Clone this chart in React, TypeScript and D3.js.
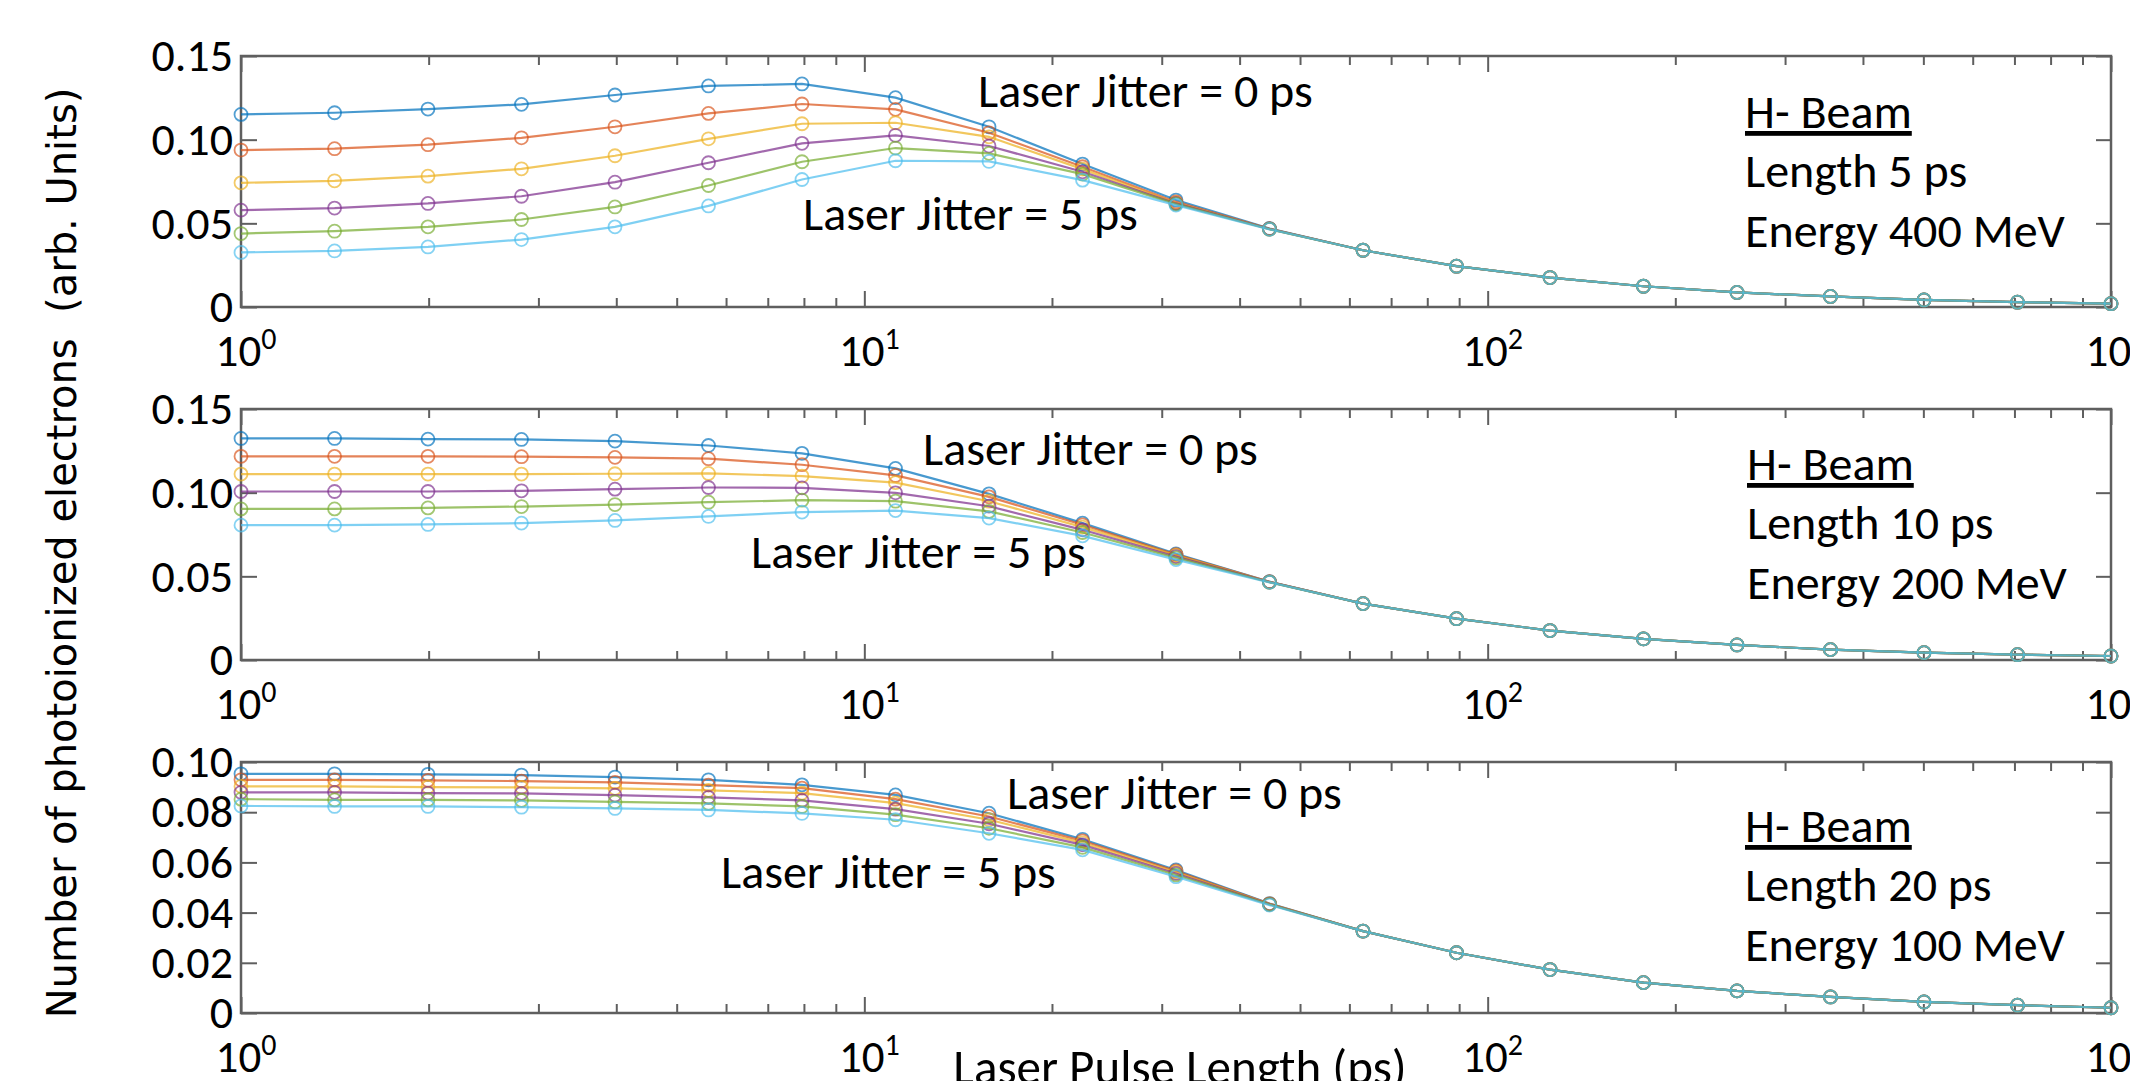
import { useEffect, useRef } from "react";
import * as d3 from "d3";

// Laser pulse length (ps), log spaced
const pulseLengths = [1, 1.413, 1.995, 2.818, 3.981, 5.623, 7.943, 11.22, 15.85, 22.39, 31.62, 44.67, 63.1, 89.13, 125.9, 177.8, 251.2, 354.8, 501.2, 707.9, 1000];

// MATLAB default colour order, jitter 0..5 ps
const seriesColors = ["#0072BD", "#D95319", "#EDB120", "#7E2F8E", "#77AC30", "#4DBEEE"];

// Panel 1: length 5 ps, 400 MeV (first 12 points per jitter, then a common tail)
const tail400 = [0.0339, 0.0244, 0.0176, 0.0124, 0.0087, 0.0063, 0.0042, 0.0029, 0.0020];
const jit0_400 = [0.1151, 0.1161, 0.1183, 0.1211, 0.1267, 0.1321, 0.1333, 0.1251, 0.1077, 0.0854, 0.0639, 0.0469];
const jit1_400 = [0.0938, 0.0946, 0.0970, 0.1011, 0.1077, 0.1157, 0.1213, 0.1181, 0.1041, 0.0838, 0.0628, 0.0467];
const jit2_400 = [0.0742, 0.0754, 0.0782, 0.0826, 0.0904, 0.1005, 0.1095, 0.1101, 0.1017, 0.0824, 0.0622, 0.0466];
const jit3_400 = [0.0579, 0.0591, 0.0619, 0.0662, 0.0746, 0.0862, 0.0978, 0.1026, 0.0962, 0.0808, 0.0619, 0.0466];
const jit4_400 = [0.0439, 0.0453, 0.0479, 0.0523, 0.0598, 0.0726, 0.0868, 0.0950, 0.0918, 0.0794, 0.0615, 0.0465];
const jit5_400 = [0.0326, 0.0335, 0.0359, 0.0403, 0.0479, 0.0604, 0.0762, 0.0874, 0.0870, 0.0758, 0.0609, 0.0464];

// Panel 2: length 10 ps, 200 MeV
const tail200 = [0.0337, 0.0247, 0.0176, 0.0126, 0.0090, 0.0062, 0.0044, 0.0032, 0.0024];
const jit0_200 = [0.1324, 0.1324, 0.1320, 0.1318, 0.1308, 0.1282, 0.1235, 0.1145, 0.0993, 0.0818, 0.0634, 0.0468];
const jit1_200 = [0.1217, 0.1217, 0.1217, 0.1215, 0.1211, 0.1203, 0.1167, 0.1103, 0.0975, 0.0808, 0.0630, 0.0467];
const jit2_200 = [0.1111, 0.1111, 0.1111, 0.1111, 0.1113, 0.1115, 0.1099, 0.1060, 0.0949, 0.0794, 0.0625, 0.0466];
const jit3_200 = [0.1007, 0.1007, 0.1007, 0.1011, 0.1021, 0.1031, 0.1029, 0.0999, 0.0919, 0.0778, 0.0618, 0.0466];
const jit4_200 = [0.0903, 0.0903, 0.0909, 0.0917, 0.0929, 0.0943, 0.0955, 0.0949, 0.0888, 0.0762, 0.0610, 0.0465];
const jit5_200 = [0.0806, 0.0806, 0.0810, 0.0818, 0.0834, 0.0858, 0.0884, 0.0893, 0.0848, 0.0742, 0.0600, 0.0464];

// Panel 3: length 20 ps, 100 MeV
const tail100 = [0.0326, 0.0240, 0.0173, 0.0121, 0.0088, 0.0064, 0.0044, 0.0031, 0.0021];
const jit0_100 = [0.0953, 0.0953, 0.0951, 0.0948, 0.0940, 0.0929, 0.0909, 0.0869, 0.0796, 0.0692, 0.0570, 0.0436];
const jit1_100 = [0.0929, 0.0929, 0.0927, 0.0924, 0.0919, 0.0908, 0.0896, 0.0852, 0.0783, 0.0686, 0.0566, 0.0435];
const jit2_100 = [0.0903, 0.0903, 0.0900, 0.0899, 0.0895, 0.0887, 0.0876, 0.0836, 0.0770, 0.0678, 0.0561, 0.0434];
const jit3_100 = [0.0879, 0.0879, 0.0876, 0.0875, 0.0868, 0.0859, 0.0847, 0.0812, 0.0754, 0.0670, 0.0556, 0.0433];
const jit4_100 = [0.0852, 0.0849, 0.0849, 0.0847, 0.0841, 0.0835, 0.0823, 0.0790, 0.0736, 0.0660, 0.0550, 0.0432];
const jit5_100 = [0.0825, 0.0823, 0.0823, 0.0820, 0.0815, 0.0809, 0.0795, 0.0770, 0.0716, 0.0650, 0.0543, 0.0430];

const yTicksA = [0, 0.05, 0.10, 0.15];
const yTicksB = [0, 0.02, 0.04, 0.06, 0.08, 0.10];
const xMajorTicks = [1, 10, 100, 1000];

const beamLengths = ["Length 5 ps", "Length 10 ps", "Length 20 ps"];
const beamEnergies = ["Energy 400 MeV", "Energy 200 MeV", "Energy 100 MeV"];

const yLabel = "Number of photoionized electrons  (arb. Units)";
const xLabel = "Laser Pulse Length (ps)";

const panels = [
    {
        series: [jit0_400, jit1_400, jit2_400, jit3_400, jit4_400, jit5_400].map(h => [...h, ...tail400]),
        yMax: 0.15, yTicks: yTicksA,
        top: 56, j0: [978, 51], j5: [803, 174], beam: [1745, 72],
    },
    {
        series: [jit0_200, jit1_200, jit2_200, jit3_200, jit4_200, jit5_200].map(h => [...h, ...tail200]),
        yMax: 0.15, yTicks: yTicksA,
        top: 409, j0: [923, 56], j5: [751, 159], beam: [1747, 71],
    },
    {
        series: [jit0_100, jit1_100, jit2_100, jit3_100, jit4_100, jit5_100].map(h => [...h, ...tail100]),
        yMax: 0.10, yTicks: yTicksB,
        top: 762, j0: [1007, 47], j5: [721, 126], beam: [1745, 80],
    },
];

const FONT = "Carlito, Lato, sans-serif";

export default function App() {
    const svgRef = useRef<SVGSVGElement>(null);

    useEffect(() => {
        if (!svgRef.current) return;
        const svg = d3.select(svgRef.current);
        svg.selectAll("*").remove();

        const W = 2130, H = 1081;
        const left = 241, right = 2111, ph = 251;

        svg.attr("width", W).attr("height", H);
        svg.append("rect").attr("width", W).attr("height", H).attr("fill", "white");

        const x = d3.scaleLog().domain([1, 1000]).range([left, right]);
        const allTicks = x.ticks();
        const minorTicks = allTicks.filter(t => !xMajorTicks.includes(t));

        panels.forEach((p, pi) => {
            const y = d3.scaleLinear().domain([0, p.yMax]).range([p.top + ph, p.top]);
            const g = svg.append("g");
            const axisColor = "#5f5f5f";

            const styleAxis = (sel: d3.Selection<SVGGElement, unknown, null, undefined>) => {
                sel.select(".domain").remove();
                sel.selectAll(".tick line").attr("stroke", axisColor).attr("stroke-width", 2);
            };

            // x ticks, bottom and top, pointing inward
            g.append("g").attr("transform", `translate(0,${p.top + ph})`)
                .call(d3.axisBottom(x).tickValues(minorTicks).tickSize(-9).tickFormat(() => ""))
                .call(styleAxis);
            g.append("g").attr("transform", `translate(0,${p.top + ph})`)
                .call(d3.axisBottom(x).tickValues(xMajorTicks).tickSize(-16).tickFormat(() => ""))
                .call(styleAxis);
            g.append("g").attr("transform", `translate(0,${p.top})`)
                .call(d3.axisTop(x).tickValues(minorTicks).tickSize(-9).tickFormat(() => ""))
                .call(styleAxis);
            g.append("g").attr("transform", `translate(0,${p.top})`)
                .call(d3.axisTop(x).tickValues(xMajorTicks).tickSize(-16).tickFormat(() => ""))
                .call(styleAxis);

            // y ticks, left with labels, right plain
            const yl = g.append("g").attr("transform", `translate(${left},0)`)
                .call(d3.axisLeft(y).tickValues(p.yTicks).tickSize(-16).tickPadding(8)
                    .tickFormat(d => (+d === 0 ? "0" : d3.format(".2f")(+d))))
                .call(styleAxis);
            yl.selectAll("text").attr("font-family", FONT).attr("font-size", 46).attr("fill", "#000");
            g.append("g").attr("transform", `translate(${right},0)`)
                .call(d3.axisRight(y).tickValues(p.yTicks).tickSize(-15).tickFormat(() => ""))
                .call(styleAxis);

            // frame
            g.append("rect")
                .attr("x", left).attr("y", p.top)
                .attr("width", right - left).attr("height", ph)
                .attr("fill", "none").attr("stroke", axisColor).attr("stroke-width", 2.5);

            // x tick labels 10^k
            xMajorTicks.forEach(t => {
                const txt = g.append("text")
                    .attr("x", x(t) + 5).attr("y", p.top + ph + 59)
                    .attr("text-anchor", "middle")
                    .attr("font-family", FONT).attr("font-size", 45).attr("fill", "#000");
                txt.append("tspan").text("10");
                txt.append("tspan").attr("dy", -17).attr("font-size", 30).text(String(Math.round(Math.log10(t))));
            });

            // series
            const line = d3.line<number>().x((_, i) => x(pulseLengths[i])).y(d => y(d));
            p.series.forEach((vals, si) => {
                const c = seriesColors[si];
                g.append("path").datum(vals)
                    .attr("d", line)
                    .attr("fill", "none").attr("stroke", c).attr("stroke-width", 2.2)
                    .attr("stroke-opacity", 0.72);
                g.selectAll(null).data(vals).enter().append("circle")
                    .attr("cx", (_, i) => x(pulseLengths[i]))
                    .attr("cy", d => y(d))
                    .attr("r", 6.5)
                    .attr("fill", "none").attr("stroke", c).attr("stroke-width", 1.8)
                    .attr("stroke-opacity", 0.68);
            });

            // annotations
            const ann = (tx: number, ty: number, s: string, size = 48) =>
                g.append("text").attr("x", tx).attr("y", ty)
                    .attr("font-family", FONT).attr("font-size", size).attr("fill", "#000").text(s);
            ann(p.j0[0], p.top + p.j0[1], "Laser Jitter = 0 ps");
            ann(p.j5[0], p.top + p.j5[1], "Laser Jitter = 5 ps");
            ann(p.beam[0], p.top + p.beam[1], "H- Beam").style("text-decoration", "underline");
            ann(p.beam[0], p.top + p.beam[1] + 59, beamLengths[pi]);
            ann(p.beam[0], p.top + p.beam[1] + 119, beamEnergies[pi]);
        });

        // axis titles
        svg.append("text")
            .attr("transform", `translate(76,553) rotate(-90)`)
            .attr("text-anchor", "middle")
            .attr("font-family", "DejaVu Sans, Verdana, sans-serif")
            .attr("font-size", 40).attr("fill", "#000")
            .style("white-space", "pre")
            .text(yLabel);

        svg.append("text")
            .attr("x", 1180).attr("y", 1084)
            .attr("text-anchor", "middle")
            .attr("font-family", FONT).attr("font-size", 49).attr("fill", "#000")
            .text(xLabel);
    }, []);

    return (
        <div style={{ position: "absolute", left: 0, top: 0 }}>
            <svg ref={svgRef} style={{ display: "block" }}></svg>
        </div>
    );
}
